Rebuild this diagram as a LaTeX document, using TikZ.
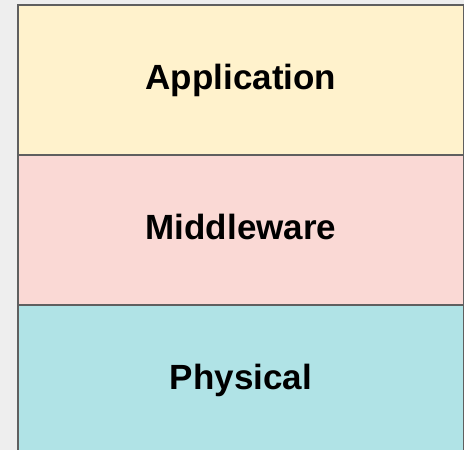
\documentclass[tikz,border=0pt]{standalone}
\usepackage{fontspec}
\setmainfont{Liberation Sans}
\definecolor{pagebg}{HTML}{EEEEEE}
\definecolor{edge}{HTML}{5F5F5F}
\definecolor{appfill}{HTML}{FFF2CC}
\definecolor{midfill}{HTML}{FAD9D5}
\definecolor{phyfill}{HTML}{B0E3E6}
\begin{document}
\begin{tikzpicture}[x=1pt,y=1pt,
  layer/.style={draw=edge, line width=2.6pt, minimum width=446pt,
    minimum height=150pt, inner sep=0pt, text height=26pt, text depth=7pt,
    font=\fontsize{35}{42}\selectfont\bfseries}]
  \useasboundingbox (0,0) rectangle (464,450);
  \fill[pagebg] (0,0) rectangle (464,450);
  \clip (0,0) rectangle (464,450);
  % three stacked layers, bottom one runs past the lower edge
  \node[layer, fill=phyfill] (phy) at (241,70) {Physical};
  \node[layer, fill=midfill] (mid) at (241,220) {Middleware};
  \node[layer, fill=appfill] (app) at (241,370) {Application};
\end{tikzpicture}
\end{document}
